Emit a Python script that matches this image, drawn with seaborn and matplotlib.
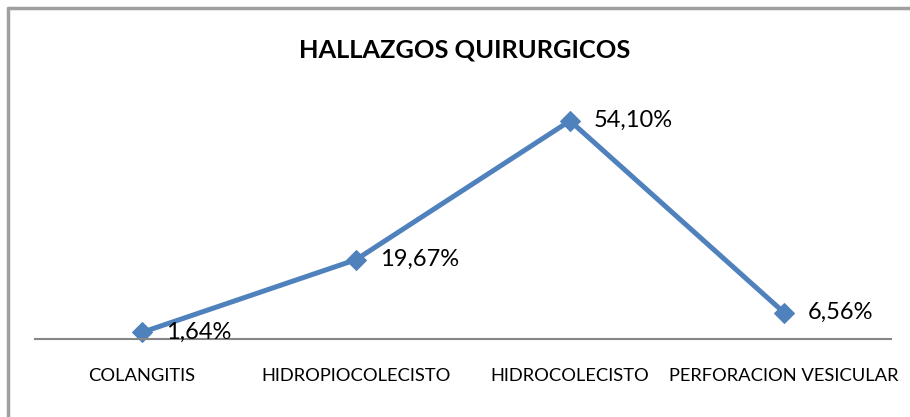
import matplotlib
matplotlib.use("Agg")
import matplotlib.pyplot as plt
import seaborn as sns
import pandas as pd
from matplotlib.lines import Line2D

categories = ["COLANGITIS", "HIDROPIOCOLECISTO", "HIDROCOLECISTO", "PERFORACION VESICULAR"]
values = [1.64, 19.67, 54.10, 6.56]
labels = ["1,64%", "19,67%", "54,10%", "6,56%"]
title = "HALLAZGOS QUIRURGICOS"

sns.set_style("white")
plt.rcParams['font.family'] = ['Lato', 'DejaVu Sans']

df = pd.DataFrame({"cat": categories, "val": values})

fig = plt.figure(figsize=(9.1, 4.17), dpi=100)
ax = fig.add_axes([35/910, (417-339)/417, (891-35)/910, (339-97)/417])
sns.lineplot(data=df, x="cat", y="val", ax=ax, color="#4F81BD", linewidth=3.6,
             marker="D", markersize=10, markeredgecolor="#4F81BD", sort=False)
ax.set_xlim(-0.5, 3.5)
ax.set_ylim(0, 60)
for s in ["top", "right", "left"]:
    ax.spines[s].set_visible(False)
ax.spines["bottom"].set_color("#868686")
ax.spines["bottom"].set_linewidth(1.5)
ax.set_yticks([])
ax.set_xlabel("")
ax.set_ylabel("")
ax.tick_params(axis="x", length=0, pad=21, labelsize=13.2, colors="black")
ax.patch.set_alpha(0)
for line in ax.lines:
    line.set_clip_on(False)

for i, (v, lab) in enumerate(zip(values, labels)):
    ax.annotate(lab, xy=(i, v), xytext=(17, 0), textcoords="offset points",
                ha="left", va="center", fontsize=17, color="black")

fig.text(465/910, 1 - 50/417, title, ha="center", va="center",
         fontsize=18.3, fontweight="bold", color="black")

fig.add_artist(Line2D([8/910, 1.0], [1 - 8/417, 1 - 8/417], transform=fig.transFigure,
                      color="#A0A0A0", linewidth=2.5))
fig.add_artist(Line2D([8/910, 8/910], [0, 1 - 8/417], transform=fig.transFigure,
                      color="#A0A0A0", linewidth=2.5))

fig.savefig("out.png", dpi=100)
